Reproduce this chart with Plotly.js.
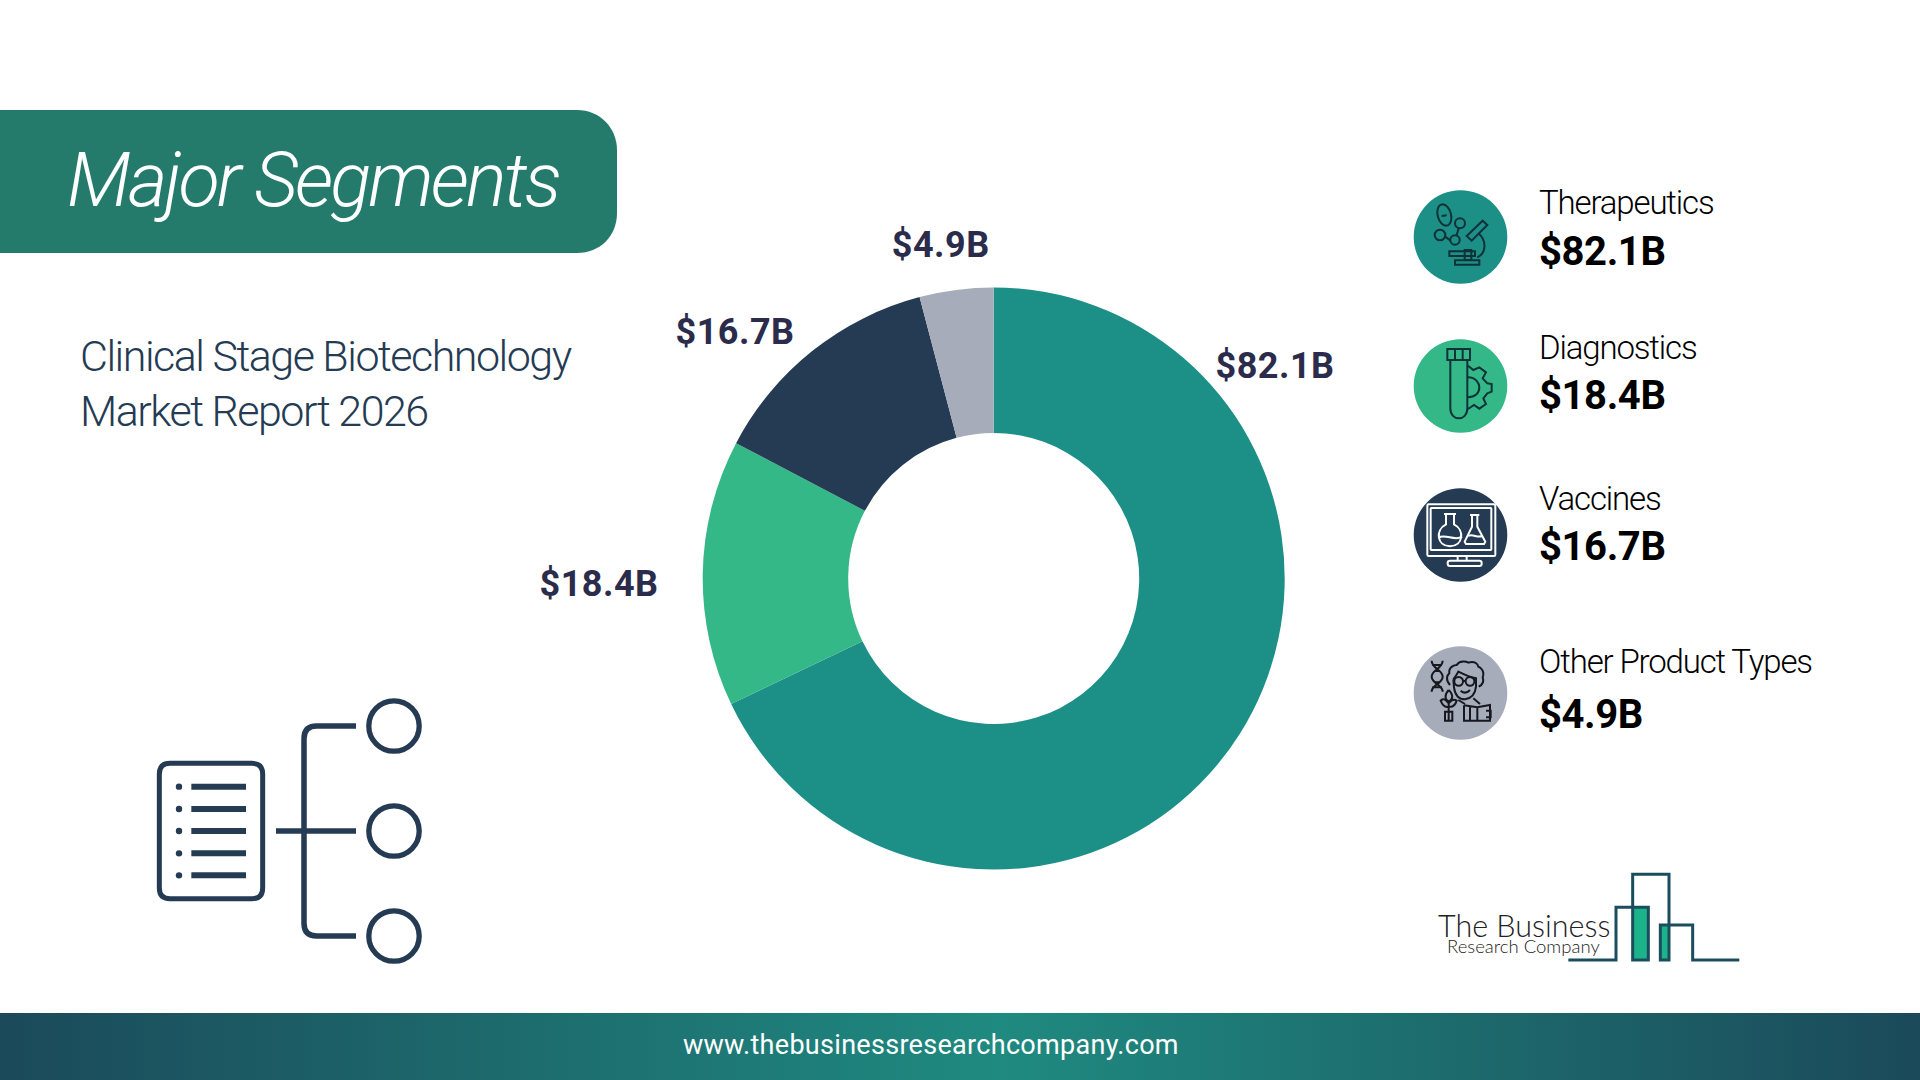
<!DOCTYPE html>
<html><head><meta charset="utf-8">
<script src="https://cdn.plot.ly/plotly-3.0.1.min.js"></script>
<style>
html,body{margin:0;padding:0;background:#fff;overflow:hidden}
#chart{width:1920px;height:1080px}
.annotation[data-index="0"] text{letter-spacing:-2.9px}
.annotation[data-index="1"] text,.annotation[data-index="2"] text{letter-spacing:-1.5px}
.annotation[data-index="3"] text,.annotation[data-index="4"] text,.annotation[data-index="5"] text,.annotation[data-index="6"] text{letter-spacing:0.5px}
.annotation[data-index="7"] text,.annotation[data-index="9"] text,.annotation[data-index="11"] text,.annotation[data-index="13"] text{letter-spacing:-1.15px}
.annotation[data-index="8"] text,.annotation[data-index="10"] text,.annotation[data-index="12"] text,.annotation[data-index="14"] text{letter-spacing:-0.4px}
.annotation[data-index="15"] text{letter-spacing:0.3px}
</style></head><body><div id="chart"></div>
<script>
const categories=["Therapeutics","Diagnostics","Vaccines","Other Product Types"];
const values=[82.1,18.4,16.7,4.9];
const drawnShares=[67.9,14.8,13.2,4.1];
const sliceColors=["#1C8F87","#34B888","#243B53","#A6ACBA"];
const valueLabels=values.map(v=>"$"+v.toFixed(1)+"B");
const titleText="Major Segments";
const subtitleLines=["Clinical Stage Biotechnology","Market Report 2026"];
const footerText="www.thebusinessresearchcompany.com";

const W=1920,H=1080,NAVY="#243B53";
const shapes=[];
function T(d,ox,oy,s){let i=0;return d.replace(/-?\d+(\.\d+)?/g,n=>{const v=+n;return (i++%2===0?ox+v*s:oy+v*s).toFixed(2)})}
function path(d,color,w,fill,layer){shapes.push({type:"path",path:d,xref:"x",yref:"y",layer:layer||"above",line:{color:color,width:w},fillcolor:fill||"rgba(0,0,0,0)"})}
function circ(cx,cy,r,color,w,fill){shapes.push({type:"circle",xref:"x",yref:"y",x0:cx-r,x1:cx+r,y0:cy-r,y1:cy+r,line:{color:color,width:w},fillcolor:fill||"rgba(0,0,0,0)"})}
function rrect(x0,y0,x1,y1,r){return `M${x0+r} ${y0}L${x1-r} ${y0}Q${x1} ${y0} ${x1} ${y0+r}L${x1} ${y1-r}Q${x1} ${y1} ${x1-r} ${y1}L${x0+r} ${y1}Q${x0} ${y1} ${x0} ${y1-r}L${x0} ${y0+r}Q${x0} ${y0} ${x0+r} ${y0}Z`}

path(`M0 110L577 110C600 110 617 128 617 150L617 213C617 236 600 253 577 253L0 253Z`,"rgba(0,0,0,0)",0,"#247B6C","below");

const legendY=[237,386,535,693];
const legendX=1460.5;
legendY.forEach((y,i)=>circ(legendX,y,46.8,"rgba(0,0,0,0)",0,sliceColors[i]));

(function(){const f=d=>T(d,1390,170,1/3),c="#0F3238",w=2;
 const e=[];for(let a=0;a<=360;a+=20){const t=a*Math.PI/180,ex=20*Math.cos(t),ey=33*Math.sin(t),r=-15*Math.PI/180;e.push((a?"L":"M")+(163+ex*Math.cos(r)-ey*Math.sin(r)).toFixed(1)+" "+(135+ex*Math.sin(r)+ey*Math.cos(r)).toFixed(1))}
 path(f(e.join("")+"Z"),c,w);
 path(f("M155 138L170 136"),c,w);
 circ(1390+210/3,170+160/3,5,c,w);circ(1390+150/3,170+195/3,5.3,c,w);circ(1390+195/3,170+210/3,4.7,c,w);
 path(f("M165 200L182 212"),c,w);path(f("M200 196L206 174"),c,w);
 path(f("M230 198L278 152L292 165L245 212Z"),c,w);
 path(f("M265 190C290 210 290 250 262 262"),c,w);
 path(f("M178 244L255 244L255 258L178 258Z"),c,w);
 path(f("M224 240L244 240L244 270L224 270Z"),c,w);
 path(f("M195 271L268 271L268 284L195 284Z"),c,w);
})();
(function(){const f=d=>T(d,1390,170,1/3),c="#0F3238",w=2;
 path(f("M172 537L240 537L240 570L172 570Z"),c,w);
 path(f("M195 537L195 570M218 537L218 570"),c,w);
 path(f("M181 570L181 715C181 755 232 755 232 715L232 570"),c,w);
 path(f("M234 587L250 600L268 592L288 607L278 625L292 640L305 642L305 665L292 670L280 685L288 702L268 716L252 705L234 717"),c,w);
 path(f("M234 622C258 622 268 640 268 652C268 670 255 682 234 682"),c,w);
})();
(function(){const f=d=>T(d,1390,470,1/3),c="#FFFFFF",w=2;
 path(f(rrect(112,103,316,258,4)),c,w);
 path(f(rrect(122,114,304,240,2)),c,w);
 path(f("M203 258L203 272M230 258L230 272"),c,w);
 path(f(rrect(173,272,275,288,7)),c,w);
 path(f("M162 132L198 132M168 132L168 163C135 180 140 228 180 229C220 228 225 180 192 163L192 132"),c,w);
 path(f("M146 203C165 190 195 215 216 200"),c,w);
 path(f("M240 135L268 135M246 135L246 170L224 215L228 222L282 222L286 215L262 170L262 135"),c,w);
 path(f("M234 198C248 190 262 205 276 198"),c,w);
})();
(function(){const f=d=>T(d,1390,470,1/3),c="#15181E",w=2;
 path(f("M125 572C125 595 158 600 158 620C158 640 125 645 125 665M158 572C158 595 125 600 125 620C125 640 158 645 158 665"),c,w);
 path(f("M127 585L156 585M135 603L150 603M135 637L150 637M127 652L156 652"),c,w);
 path(f("M180 645C165 628 172 615 178 610C175 590 195 585 200 585C210 570 230 575 235 578C255 570 265 585 265 590C285 600 280 618 278 622C285 640 270 648 266 650"),c,w);
 path(f("M190 628L192 652C196 682 212 688 225 688C245 685 256 670 258 650L258 625C240 622 215 610 205 605C200 615 195 622 190 628"),c,w);
 circ(1390+206/3,470+634/3,4.4,c,w);circ(1390+240/3,470+634/3,4.4,c,w);
 path(f("M220 633L226 633M192 633L193 633M254 633L258 633"),c,w);
 path(f("M212 662Q226 675 240 660"),c,w);
 path(f("M222 706L222 752L300 752L300 705L262 712L222 706M262 712L262 752M240 752L240 708M288 722L302 722L302 742L288 742"),c,w);
 path(f("M205 690L225 702M250 685L270 702"),c,w);
 path(f("M176 752L176 690M176 660C162 675 165 690 176 695C188 690 192 675 176 660M176 700C160 680 155 690 152 692C160 712 170 712 176 710C185 712 195 708 200 692C190 685 180 695 176 700"),c,w);
 path(f("M165 725L187 725L187 752L165 752Z"),c,w);
})();
(function(){const f=d=>T(d,130,680,1/3),w=5;
 path(f(rrect(88,250,398,656,32)),NAVY,w);
 [320,387,453,520,586].forEach(y=>{circ(130+147/3,680+y/3,3.2,"rgba(0,0,0,0)",0,NAVY);path(f(`M184 ${y}L348 ${y}`),NAVY,6)});
 path(f("M438 453L678 453"),NAVY,5.5);
 path(f("M678 138L560 138Q522 138 522 176L522 730Q522 768 560 768L678 768"),NAVY,5.5);
 [138,453,768].forEach(y=>circ(130+792/3,680+y/3,25.2,NAVY,5.3));
})();
(function(){const f=d=>T(d,1420,860,1/3),c="#1A4E5E";
 path(f("M638 142L685 142L685 302L638 302Z"),"rgba(0,0,0,0)",0,"#1DB38A");
 path(f("M722 195L747 195L747 302L722 302Z"),"rgba(0,0,0,0)",0,"#1DB38A");
 path(f("M445 300L588 300L588 142L685 142L685 300L638 300L638 43L747 43L747 300L721 300L721 195L818 195L818 300L958 300"),c,3);
})();

const A=(text,x,y,font,extra)=>Object.assign({text,x,y,xref:"x",yref:"y",showarrow:false,xanchor:"left",align:"left",yanchor:"middle",borderpad:0,font:Object.assign({family:"Roboto"},font)},extra||{});
const annotations=[
 A(titleText,66,180,{size:76,color:"#FFFFFF",style:"italic",weight:300}),
 A(subtitleLines[0],79,356,{size:43,color:NAVY,weight:300}),
 A(subtitleLines[1],79,411,{size:43,color:NAVY,weight:300}),
];
const labelPos=[[1275,366],[599,584],[735,332],[940,245]];
values.forEach((v,i)=>annotations.push(A(valueLabels[i],labelPos[i][0],labelPos[i][1],{size:36,color:"#2B2B4B",weight:700},{xanchor:"center",align:"center"})));
const nameY=[202,347,498,661],valY=[251,395,546,714];
categories.forEach((c,i)=>{
 annotations.push(A(c,1538,nameY[i],{size:33,color:"#000",weight:300}));
 annotations.push(A(valueLabels[i],1538,valY[i],{size:40,color:"#000",weight:700}));
});
annotations.push(A(footerText,931,1045,{size:27,color:"#FFFFFF",weight:400},{xanchor:"center",align:"center"}));
annotations.push(A("The Business",1437,925,{family:"Lato",size:30.5,color:"#222",weight:300}));
annotations.push(A("Research Company",1446,946,{family:"Lato",size:18.5,color:"#222",weight:300}));

const grad=`<svg xmlns="http://www.w3.org/2000/svg" width="1920" height="67" preserveAspectRatio="none"><defs><linearGradient id="g" x1="0" x2="1" y1="0" y2="0"><stop offset="0" stop-color="#1B4A5A"/><stop offset="0.52" stop-color="#1F8A80"/><stop offset="1" stop-color="#1B4A5A"/></linearGradient></defs><rect width="1920" height="67" fill="url(#g)"/></svg>`;

const cx=993.7,cy=578.5,R=291;
Plotly.newPlot("chart",[
 {type:"scatter",x:[],y:[],hoverinfo:"skip",showlegend:false},
 {type:"pie",labels:categories,values:drawnShares,hole:0.5,sort:false,direction:"clockwise",rotation:0,textinfo:"none",
  marker:{colors:sliceColors,line:{width:0}},showlegend:false,
  domain:{x:[(cx-R)/W,(cx+R)/W],y:[1-(cy+R)/H,1-(cy-R)/H]}}
],{
 width:W,height:H,margin:{l:0,r:0,t:0,b:0,pad:0},paper_bgcolor:"#fff",plot_bgcolor:"rgba(0,0,0,0)",showlegend:false,
 xaxis:{range:[0,W],visible:false,fixedrange:true,domain:[0,1]},
 yaxis:{range:[H,0],visible:false,fixedrange:true,domain:[0,1]},
 shapes,annotations,
 images:[{source:"data:image/svg+xml;utf8,"+encodeURIComponent(grad),xref:"paper",yref:"paper",x:0,y:67/H,sizex:1,sizey:67/H,xanchor:"left",yanchor:"top",sizing:"stretch",layer:"below"}]
},{displayModeBar:false,staticPlot:true});
</script></body></html>
